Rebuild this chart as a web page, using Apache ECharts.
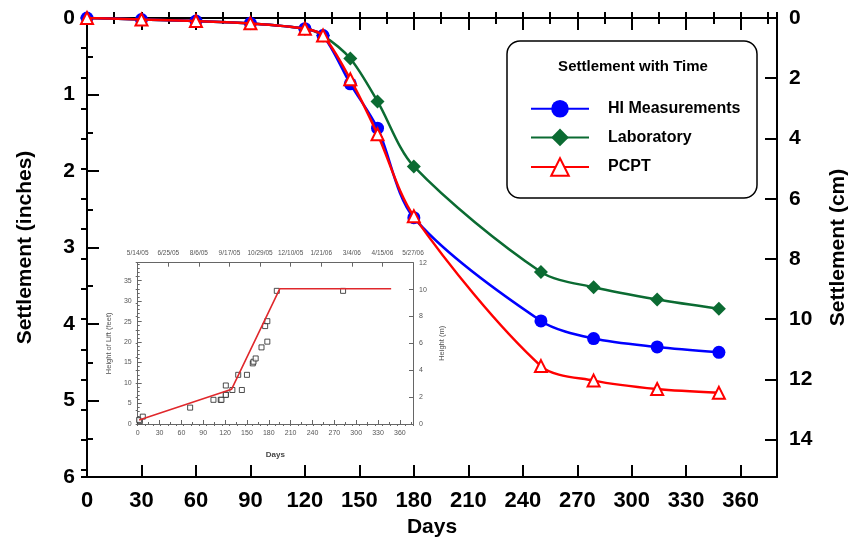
<!DOCTYPE html>
<html>
<head>
<meta charset="utf-8">
<script src="https://cdn.jsdelivr.net/npm/echarts@6/dist/echarts.min.js"></script>
<style>
  html, body { margin: 0; padding: 0; background: #fff; }
  #main { position: absolute; left: 0; top: 0; width: 850px; height: 543px; }
  #inset { position: absolute; left: 100px; top: 235px; width: 360px; height: 235px; filter: blur(0.45px); }
</style>
</head>
<body>
<div id="main"></div>
<div id="inset"></div>
<script>
// ---- Settlement vs. time (days) ----
const days        = [0, 30, 60, 90, 120, 130, 145, 160, 180, 250, 279, 314, 348];
const hiMeasured  = [0, 0.02, 0.04, 0.07, 0.14, 0.23, 0.86, 1.44, 2.61, 3.96, 4.19, 4.30, 4.37];
const laboratory  = [0, 0.02, 0.04, 0.07, 0.14, 0.23, 0.53, 1.09, 1.94, 3.32, 3.52, 3.68, 3.80];
const pcpt        = [0, 0.02, 0.04, 0.07, 0.14, 0.23, 0.80, 1.52, 2.59, 4.55, 4.74, 4.85, 4.90];
const seriesNames = ['HI Measurements', 'Laboratory', 'PCPT'];

// ---- Inset: fill height vs. time ----
const liftDays    = [2, 129, 195, 348];
const liftFeet    = [1.0, 8.5, 33.0, 33.0];
const surveyDays  = [3, 2, 7, 72, 104, 114, 115, 121, 121, 121, 130, 138, 143, 150, 158, 159, 162, 170, 175, 178, 178, 191, 282];
const surveyFeet  = [0.7, 1.0, 1.8, 4.0, 5.9, 5.9, 5.9, 9.4, 7.2, 7.1, 8.3, 12.0, 8.3, 12.0, 14.8, 15.2, 16.0, 18.7, 23.9, 25.1, 20.1, 32.5, 32.5];
const dateLabels  = ['5/14/05', '6/25/05', '8/6/05', '9/17/05', '10/29/05', '12/10/05', '1/21/06', '3/4/06', '4/15/06', '5/27/06'];

const FONT = 'Liberation Sans, Arial, Helvetica, sans-serif';
const X_MAX = 380;
const IN_MAX = 6;
const CM_MAX = IN_MAX * 2.54;

const pairs = (xs, ys) => xs.map((x, i) => [x, ys[i]]);

function tickAxis(extra) {
  return Object.assign({
    type: 'value',
    gridIndex: 0,
    axisLine: { show: false },
    axisLabel: { show: false },
    splitLine: { show: false },
    axisTick: { show: true, inside: true, length: 6, lineStyle: { color: '#000', width: 2 } }
  }, extra);
}

const black = { color: '#000', width: 2 };
const labelStyle = { color: '#000', fontSize: 21, fontWeight: 'bold', fontFamily: FONT };
const nameStyle = { color: '#000', fontSize: 21, fontWeight: 'bold', fontFamily: FONT };

const main = echarts.init(document.getElementById('main'), null, { renderer: 'canvas' });
main.setOption({
  animation: false,
  backgroundColor: '#fff',
  grid: { left: 87, right: 73, top: 18, bottom: 66, outerBoundsMode: 'none', containLabel: false },
  xAxis: [
    {
      type: 'value', position: 'bottom', min: 0, max: X_MAX, interval: 30,
      axisLine: { show: true, onZero: false, lineStyle: black },
      axisTick: { show: true, inside: true, length: 12, lineStyle: black },
      axisLabel: Object.assign({}, labelStyle, { fontSize: 22, margin: 13,
        formatter: v => (v % 30 === 0 && v <= 360) ? String(v) : '' }),
      splitLine: { show: false },
      name: 'Days', nameLocation: 'middle', nameGap: 36, nameTextStyle: nameStyle
    },
    tickAxis({ position: 'bottom', min: 0, max: X_MAX, interval: 15 }),
    {
      type: 'value', position: 'top', min: 0, max: X_MAX, interval: 30,
      axisLine: { show: true, onZero: false, lineStyle: black },
      axisTick: { show: true, inside: true, length: 12, lineStyle: black },
      axisLabel: { show: false }, splitLine: { show: false }
    },
    tickAxis({ position: 'top', min: 0, max: X_MAX, interval: 15 })
  ],
  yAxis: [
    {
      type: 'value', position: 'left', inverse: true, min: 0, max: IN_MAX, interval: 1,
      axisLine: { show: true, onZero: false, lineStyle: black },
      axisTick: { show: true, inside: true, length: 12, lineStyle: black },
      axisLabel: Object.assign({}, labelStyle, { margin: 12 }),
      splitLine: { show: false },
      name: 'Settlement (inches)', nameLocation: 'middle', nameGap: 51, nameRotate: 90,
      nameTextStyle: nameStyle
    },
    tickAxis({ position: 'left', inverse: true, min: 0, max: IN_MAX, interval: 0.5 }),
    {
      type: 'value', position: 'right', inverse: true, min: 0, max: CM_MAX, interval: 2,
      axisLine: { show: true, onZero: false, lineStyle: black },
      axisTick: { show: true, inside: true, length: 12, lineStyle: black },
      axisLabel: Object.assign({}, labelStyle, { margin: 12,
        formatter: v => (v % 2 === 0 && v <= 14) ? String(v) : '' }),
      splitLine: { show: false },
      name: 'Settlement (cm)', nameLocation: 'middle', nameGap: 51, nameRotate: 90,
      nameTextStyle: nameStyle
    },
    tickAxis({ position: 'right', inverse: true, min: 0, max: CM_MAX, interval: 1 })
  ],
  legend: {
    data: seriesNames,
    orient: 'vertical',
    left: 525, top: 95,
    itemWidth: 58, itemHeight: 22, itemGap: 11,
    selectedMode: false,
    z: 6,
    textStyle: { color: '#000', fontSize: 16, fontWeight: 'bold', fontFamily: FONT, padding: [0, 0, 0, 14] }
  },
  graphic: [
    {
      type: 'rect', z: 1,
      shape: { x: 507, y: 41, width: 250, height: 157, r: 13 },
      style: { fill: '#fff', stroke: '#000', lineWidth: 1.5 }
    },
    {
      type: 'text', z: 2,
      x: 633, y: 67,
      style: {
        text: 'Settlement with Time',
        align: 'center', verticalAlign: 'middle',
        fill: '#000', fontSize: 15, fontWeight: 'bold', fontFamily: FONT
      }
    }
  ],
  series: [
    {
      name: 'Laboratory', type: 'line', xAxisIndex: 0, yAxisIndex: 0,
      data: pairs(days, laboratory), smooth: 0.3,
      symbol: 'diamond', symbolSize: 14,
      lineStyle: { color: '#0b6b32', width: 2.5 },
      itemStyle: { color: '#0b6b32' }, z: 2
    },
    {
      name: 'HI Measurements', type: 'line', xAxisIndex: 0, yAxisIndex: 0,
      data: pairs(days, hiMeasured), smooth: 0.3,
      symbol: 'circle', symbolSize: 13,
      lineStyle: { color: '#0000ff', width: 2.5 },
      itemStyle: { color: '#0000ff' }, z: 3
    },
    {
      name: 'PCPT', type: 'line', xAxisIndex: 0, yAxisIndex: 0,
      data: pairs(days, pcpt), smooth: 0.3,
      symbol: 'triangle', symbolSize: 12,
      lineStyle: { color: '#ff0000', width: 2.5 },
      itemStyle: { color: '#ffffff', borderColor: '#ff0000', borderWidth: 2 }, z: 4
    }
  ]
});

// ---- Inset chart ----
const INSET_X_MAX = 378;
const FT_MAX = 12 / 0.3048;
const grey = { color: '#666', width: 1 };
const smallLabel = { color: '#555', fontSize: 7, fontFamily: FONT };

function insetTicks(extra) {
  return Object.assign({
    type: 'value', axisLine: { show: false }, axisLabel: { show: false }, splitLine: { show: false },
    axisTick: { show: true, inside: true, length: 2, lineStyle: grey }
  }, extra);
}

const inset = echarts.init(document.getElementById('inset'), null, { renderer: 'canvas' });
inset.setOption({
  animation: false,
  grid: { left: 37.7, right: 47, top: 27.7, bottom: 46, outerBoundsMode: 'none', containLabel: false },
  xAxis: [
    {
      type: 'value', position: 'bottom', min: 0, max: INSET_X_MAX, interval: 30,
      axisLine: { show: true, onZero: false, lineStyle: grey },
      axisTick: { show: true, inside: true, length: 4, lineStyle: grey },
      axisLabel: Object.assign({}, smallLabel, { margin: 6,
        formatter: v => (v % 30 === 0 && v <= 360) ? String(v) : '' }),
      splitLine: { show: false },
      name: 'Days', nameLocation: 'middle', nameGap: 27,
      nameTextStyle: { color: '#444', fontSize: 8, fontWeight: 'bold', fontFamily: FONT }
    },
    insetTicks({ position: 'bottom', min: 0, max: INSET_X_MAX, interval: 15 }),
    {
      type: 'value', position: 'top', min: 0, max: INSET_X_MAX, interval: 42,
      axisLine: { show: true, onZero: false, lineStyle: grey },
      axisTick: { show: true, inside: true, length: 4, lineStyle: grey },
      axisLabel: Object.assign({}, smallLabel, { fontSize: 6.5, margin: 6,
        formatter: v => dateLabels[Math.round(v / 42)] || '' }),
      splitLine: { show: false }
    },
    insetTicks({ position: 'top', min: 0, max: INSET_X_MAX, interval: 10.5 })
  ],
  yAxis: [
    {
      type: 'value', position: 'left', min: 0, max: FT_MAX, interval: 5,
      axisLine: { show: true, onZero: false, lineStyle: grey },
      axisTick: { show: true, inside: true, length: 4, lineStyle: grey },
      axisLabel: Object.assign({}, smallLabel, { margin: 6,
        formatter: v => (v % 5 === 0 && v <= 35) ? String(v) : '' }),
      splitLine: { show: false },
      name: 'Height of Lift (feet)', nameLocation: 'middle', nameGap: 25, nameRotate: 90,
      nameTextStyle: { color: '#555', fontSize: 7.5, fontFamily: FONT }
    },
    insetTicks({ position: 'left', min: 0, max: FT_MAX, interval: 1 }),
    {
      type: 'value', position: 'right', min: 0, max: 12, interval: 2,
      axisLine: { show: true, onZero: false, lineStyle: grey },
      axisTick: { show: true, inside: true, length: 4, lineStyle: grey },
      axisLabel: Object.assign({}, smallLabel, { margin: 6 }),
      splitLine: { show: false },
      name: 'Height (m)', nameLocation: 'middle', nameGap: 20, nameRotate: 90,
      nameTextStyle: { color: '#555', fontSize: 7.5, fontFamily: FONT }
    },
    insetTicks({ position: 'right', min: 0, max: 12, interval: 1 })
  ],
  series: [
    {
      type: 'scatter', xAxisIndex: 0, yAxisIndex: 0,
      data: pairs(surveyDays, surveyFeet),
      symbol: 'rect', symbolSize: 5,
      itemStyle: { color: '#fff', borderColor: '#222', borderWidth: 1 }, z: 2
    },
    {
      type: 'line', xAxisIndex: 0, yAxisIndex: 0,
      data: pairs(liftDays, liftFeet),
      symbol: 'none',
      lineStyle: { color: '#e0282c', width: 1.6 }, z: 3
    }
  ]
});
</script>
</body>
</html>
